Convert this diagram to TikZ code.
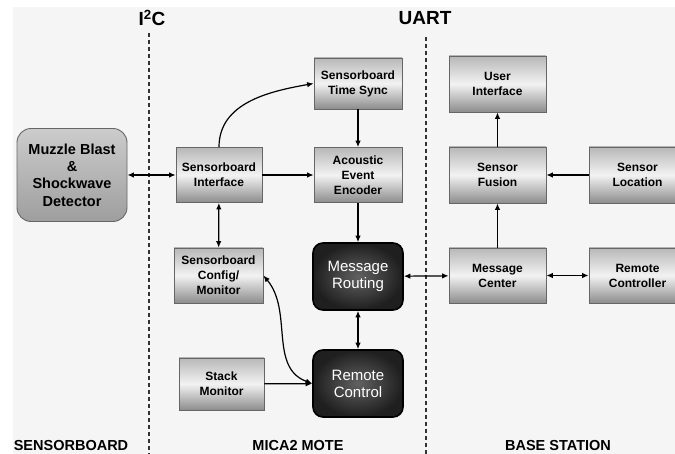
\documentclass[tikz,border=0pt]{standalone}
\usepackage{fontspec}
\setmainfont{Liberation Sans}
\usetikzlibrary{calc,arrows.meta}

\tikzset{
  lbox/.style={draw=black!60,line width=0.8pt,top color=black!28,bottom color=black!45,middle color=black!5,
    align=center,inner sep=0pt,font=\bfseries\fontsize{12}{15}\selectfont},
  dbox/.style={draw=black,line width=1.6pt,rounded corners=10pt,inner color=black!62,outer color=black!88,
    text=white,align=center,inner sep=0pt,minimum width=90pt,minimum height=67pt,font=\fontsize{15}{17}\selectfont},
  mbox/.style={draw=black!60,line width=0.9pt,rounded corners=14pt,top color=black!20,bottom color=black!38,
    align=center,inner sep=0pt,minimum width=110pt,minimum height=93pt,font=\bfseries\fontsize{14.5}{17.4}\selectfont},
  title/.style={font=\bfseries\fontsize{19}{22}\selectfont},
  region/.style={font=\bfseries\fontsize{14.5}{17}\selectfont},
  bus/.style={line width=1.1pt,black!80,dash pattern=on 4pt off 3pt},
  tip/.tip={Latex[length=6.5pt,width=5.5pt]},
  arr/.style={line width=1.2pt,-tip},
  darr/.style={line width=1.2pt,tip-tip}
}

\begin{document}
\begin{tikzpicture}[x=1pt,y=-1pt]
            %%% BACKGROUND %%%
            \useasboundingbox (0,0) rectangle (675,454);
            \clip (0,0) rectangle (675,454);
            \fill[black!4] (13,7) rectangle (675,454);

            %%% BUSES %%%
            \node[title] (i2c) at (152,18) {I\textsuperscript{2}C};
            \node[title] (uart) at (425,18) {UART};
            \coordinate (i2ctop) at (149,33);
            \coordinate (i2cbot) at (149,454);
            \coordinate (uarttop) at (426,37);
            \coordinate (uartbot) at (426,454);
            \draw[bus] (i2ctop)--(i2cbot);
            \draw[bus] (uarttop)--(uartbot);

            %%% REGIONS %%%
            \node[region] (sbrd) at (71,446) {SENSORBOARD};
            \node[region] (mote) at (298,446) {MICA2 MOTE};
            \node[region] (base) at (558,446) {BASE STATION};

            %%% SENSORBOARD %%%
            \node[mbox] (muzzle) at (72,175) {Muzzle Blast\\\&\\Shockwave\\Detector};

            %%% MOTE %%%
            \node[lbox,minimum width=86pt,minimum height=55pt] (sbif) at (219,175) {Sensorboard\\Interface};
            \node[lbox,minimum width=88pt,minimum height=51pt] (tsync) at (358,83.5) {Sensorboard\\Time Sync};
            \node[lbox,minimum width=88pt,minimum height=55pt] (enc) at (358,175) {Acoustic\\Event\\Encoder};
            \node[lbox,minimum width=89pt,minimum height=55pt] (cfg) at (218.5,275.5) {Sensorboard\\Config/\\Monitor};
            \node[lbox,minimum width=85pt,minimum height=52pt] (stack) at (221.5,384) {Stack\\Monitor};
            \node[dbox] (route) at (358,276.5) {Message\\Routing};
            \node[dbox] (rctl) at (358,383.5) {Remote\\Control};

            %%% BASE STATION %%%
            \node[lbox,minimum width=97pt,minimum height=56pt] (ui) at (497.5,84) {User\\Interface};
            \node[lbox,minimum width=97pt,minimum height=56pt] (fusion) at (497.5,175) {Sensor\\Fusion};
            \node[lbox,minimum width=97pt,minimum height=56pt] (loc) at (637.5,175) {Sensor\\Location};
            \node[lbox,minimum width=97pt,minimum height=55pt] (mctr) at (497.5,275.5) {Message\\Center};
            \node[lbox,minimum width=97pt,minimum height=55pt] (rctlr) at (637.5,275.5) {Remote\\Controller};

            %%% LINKS %%%
            \draw[darr] (muzzle)--(sbif);
            \draw[arr] (sbif)--(enc);
            \draw[arr] (sbif.north) to[out=90,in=190] (tsync.west);
            \draw[arr] (tsync)--(enc);
            \draw[arr] (enc)--(route);
            \draw[darr] (sbif)--(cfg);
            \draw[darr] (cfg.east) to[out=-50,in=160] (rctl.west);
            \draw[arr] (stack)--(rctl);
            \draw[darr] (route)--(rctl);
            \draw[darr] (route)--(mctr);
            \draw[arr] (mctr)--(fusion);
            \draw[arr] (fusion)--(ui);
            \draw[arr] (loc)--(fusion);
            \draw[darr] (mctr)--(rctlr);
        \end{tikzpicture}
\end{document}
